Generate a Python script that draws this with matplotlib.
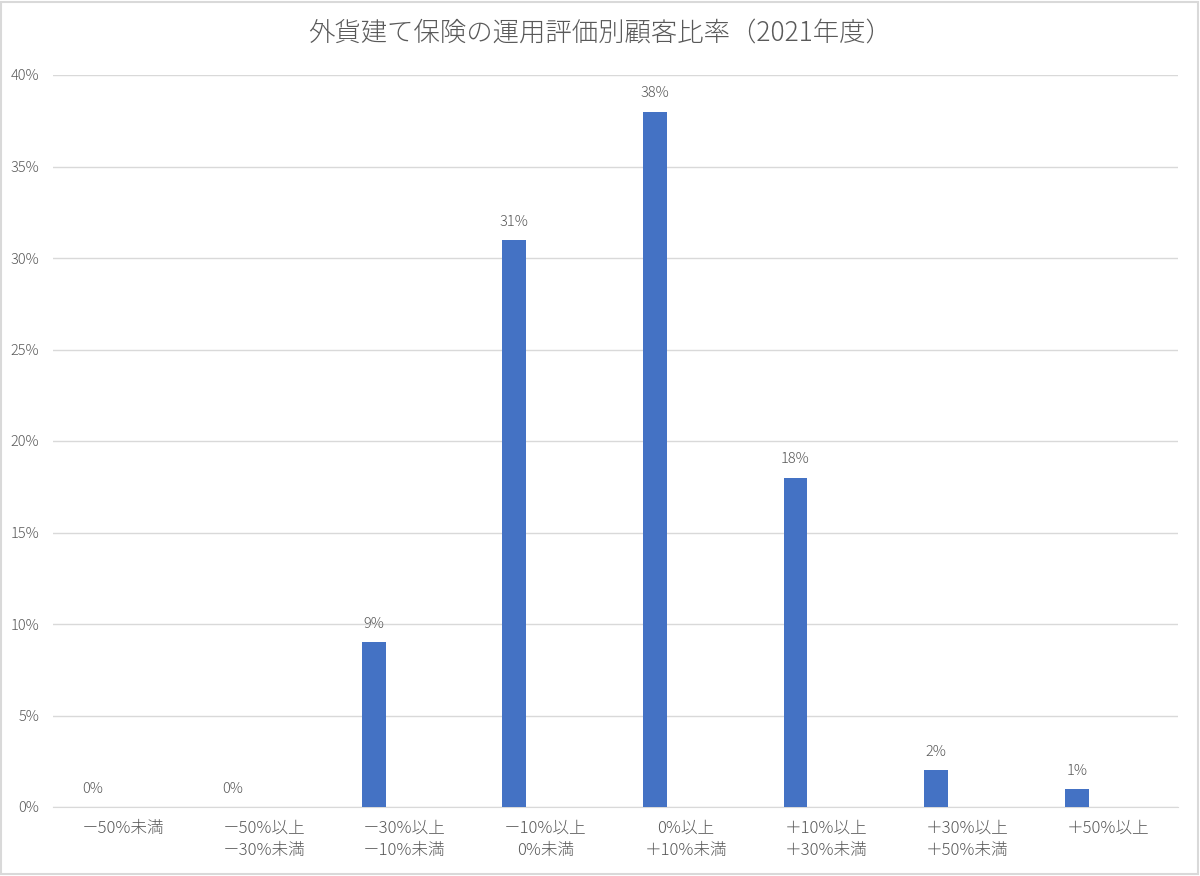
import matplotlib
matplotlib.use('Agg')
import matplotlib.pyplot as plt
from matplotlib.patches import Rectangle
import numpy as np

plt.rcParams['font.family'] = ['Noto Sans CJK JP', 'DejaVu Sans']

# データ
categories = ['－50%未満', '－50%以上\n－30%未満', '－30%以上\n－10%未満', '－10%以上\n0%未満',
              '0%以上\n＋10%未満', '＋10%以上\n＋30%未満', '＋30%以上\n＋50%未満', '＋50%以上']
values = [0, 0, 9, 31, 38, 18, 2, 1]
y_ticks = [0, 5, 10, 15, 20, 25, 30, 35, 40]
title = '外貨建て保険の運用評価別顧客比率（2021年度）'

text_color = '#595959'
bar_color = '#4472C4'
grid_color = '#D9D9D9'

fig = plt.figure(figsize=(12, 8.76), dpi=100)
ax = fig.add_axes([53 / 1200, 1 - 807 / 876, (1178 - 53) / 1200, (807 - 75) / 876])

x = np.arange(len(categories))
offset = -0.22
bars = ax.bar(x + offset, values, width=0.17, color=bar_color, zorder=3)

for xi, v in zip(x, values):
    ax.annotate(f'{v}%', (xi + offset, v), xytext=(0, 8), textcoords='offset points',
                ha='center', va='bottom', fontsize=10.5, color=text_color, fontweight='light')

ax.set_xlim(-0.5, len(categories) - 0.5)
ax.set_ylim(0, 40)
ax.set_yticks(y_ticks)
ax.set_yticklabels([f'{t}%' for t in y_ticks], fontsize=10.5, color=text_color, fontweight='light')
ax.set_xticks(x)
ax.set_xticklabels(categories, fontsize=12, color=text_color, fontweight='light', linespacing=1.45)
ax.tick_params(axis='both', length=0)
ax.tick_params(axis='x', pad=9)
ax.tick_params(axis='y', pad=10)
ax.yaxis.grid(True, color=grid_color, linewidth=1, zorder=0)
for side in ['top', 'right', 'left']:
    ax.spines[side].set_visible(False)
ax.spines['bottom'].set_color(grid_color)

fig.text(0.5, 1 - 33 / 876, title, ha='center', va='center', fontsize=19,
         color=text_color, fontweight='light')

# 外枠
fig.patches.append(Rectangle((0.001, 0.002), 0.997, 0.996, transform=fig.transFigure,
                             fill=False, edgecolor='#D9D9D9', linewidth=1.5))

fig.savefig('out.png', dpi=100)
